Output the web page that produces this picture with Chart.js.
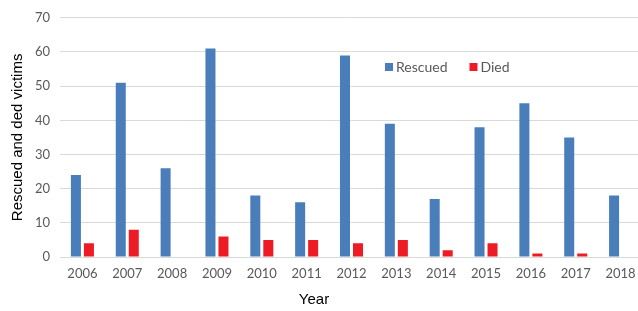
<!DOCTYPE html>
<html>
<head>
<meta charset="utf-8">
<script src="https://cdn.jsdelivr.net/npm/chart.js@4"></script>
<style>
  html, body { margin: 0; padding: 0; background: #fff; overflow: hidden; }
  #wrap { width: 643px; height: 311px; position: relative; }
</style>
</head>
<body>
<div id="wrap"><canvas id="chart"></canvas></div>
<script>
// Data
const years = ['2006', '2007', '2008', '2009', '2010', '2011', '2012', '2013', '2014', '2015', '2016', '2017', '2018'];
const rescued = [24, 51, 26, 61, 18, 16, 59, 39, 17, 38, 45, 35, 18];
const died = [4, 8, 0, 6, 5, 5, 4, 5, 2, 4, 1, 1, 0];

// Legend inside the plot and the "Year" title, placed as in the original
const extras = {
    id: 'extras',
    afterDraw(chart) {
        const ctx = chart.ctx;
        const items = chart.data.datasets;
        let x = 385;
        const y = 67;
        ctx.save();
        ctx.font = '14px Lato, "Open Sans", sans-serif';
        ctx.textBaseline = 'middle';
        items.forEach(ds => {
            ctx.fillStyle = ds.backgroundColor;
            ctx.fillRect(x, y - 4, 8, 8);
            ctx.fillStyle = '#595959';
            ctx.fillText(ds.label, x + 11, y);
            x += ctx.measureText(ds.label).width + 11 + 22;
        });

        ctx.font = '15px "Liberation Sans", Arial, sans-serif';
        ctx.fillStyle = '#000';
        ctx.textAlign = 'center';
        ctx.fillText('Year', 314, 300);
        ctx.restore();
    }
};

const ctx = document.getElementById('chart').getContext('2d');
const chart = new Chart(ctx, {
    type: 'bar',
    data: {
        labels: years,
        datasets: [{
            label: 'Rescued',
            data: rescued,
            backgroundColor: '#4a7ebb',
            borderWidth: 0
        }, {
            label: 'Died',
            data: died,
            backgroundColor: '#ed1c24',
            borderWidth: 0
        }]
    },
    options: {
        responsive: true,
        maintainAspectRatio: false,
        animation: false,
        layout: {
            padding: { left: 0, right: 0, top: 7, bottom: 0 }
        },
        datasets: {
            bar: {
                categoryPercentage: 0.58,
                barPercentage: 0.77
            }
        },
        plugins: {
            legend: { display: false },
            tooltip: { enabled: false }
        },
        scales: {
            x: {
                afterFit: (scale) => { scale.height = 54; },
                grid: { display: false },
                border: { display: false },
                ticks: {
                    color: '#595959',
                    font: { family: 'Lato, "Open Sans", sans-serif', size: 13 },
                    padding: 1
                }
            },
            y: {
                afterFit: (scale) => { scale.width = 60; },
                min: 0,
                max: 70,
                ticks: {
                    stepSize: 10,
                    color: '#595959',
                    font: { family: 'Lato, "Open Sans", sans-serif', size: 13 },
                    padding: 10
                },
                grid: {
                    color: '#d9d9d9',
                    lineWidth: 1,
                    drawTicks: false
                },
                border: { display: false },
                title: {
                    display: true,
                    text: 'Rescued and ded victims',
                    color: '#000',
                    font: { family: '"Liberation Sans", Arial, sans-serif', size: 15 },
                    padding: { top: 9, bottom: 4 }
                }
            }
        }
    },
    plugins: [extras]
});
</script>
</body>
</html>
